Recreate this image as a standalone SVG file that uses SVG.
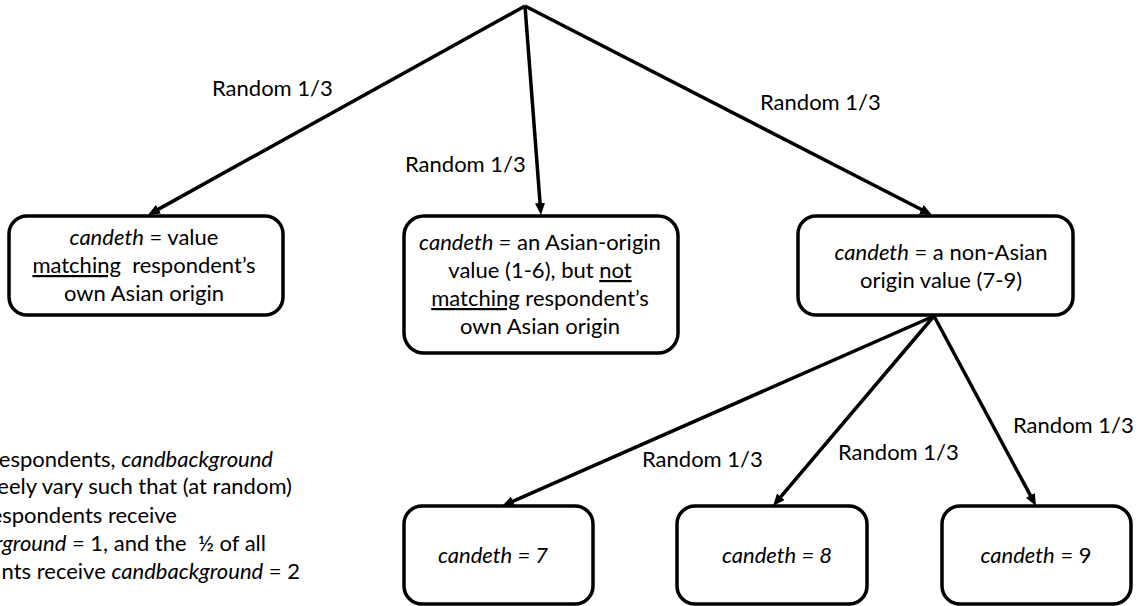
<svg xmlns="http://www.w3.org/2000/svg" width="1138" height="606" viewBox="0 0 1138 606">
<style>
text{font-family:Lato,"Liberation Sans",sans-serif;font-size:22px;fill:#000}
.c{text-anchor:middle}
.e{text-anchor:end}
.i{font-style:italic}
.u{text-decoration:underline}
.box{fill:#fff;stroke:#000;stroke-width:3.5}
.ln{stroke:#000;stroke-width:3.5;fill:none;marker-end:url(#ah)}
</style>
<defs>
<marker id="ah" markerUnits="userSpaceOnUse" markerWidth="14" markerHeight="12" refX="6" refY="5" orient="auto" viewBox="0 0 14 12">
<path d="M0,0 L12,5 L0,10 z" fill="#000"/>
</marker>
</defs>
<g id="connectors">
<line class="ln" x1="525" y1="6" x2="153.2" y2="212.1"/>
<line class="ln" x1="525" y1="6" x2="540.5" y2="209"/>
<line class="ln" x1="525" y1="6" x2="926.7" y2="212.3"/>
<line class="ln" x1="934" y1="316" x2="507.5" y2="503.6"/>
<line class="ln" x1="934" y1="316" x2="776.9" y2="501.4"/>
<line class="ln" x1="934" y1="316" x2="1033.2" y2="500.7"/>
<text x="212" y="96">Random 1/3</text>
<text x="405" y="172">Random 1/3</text>
<text x="760" y="110">Random 1/3</text>
<text x="642" y="467">Random 1/3</text>
<text x="838" y="460">Random 1/3</text>
<text x="1013" y="433">Random 1/3</text>
</g>
<g id="node-match">
<rect class="box" x="9" y="216" width="274" height="99" rx="18"/>
<text class="c" x="144" y="245"><tspan class="i">candeth</tspan> = value</text>
<text class="c" x="144" y="273"><tspan class="u">matching</tspan>&#160; respondent’s</text>
<text class="c" x="144" y="301">own Asian origin</text>
</g>
<g id="node-asian-nonmatch">
<rect class="box" x="404" y="216" width="274" height="137" rx="20"/>
<text class="c" x="540" y="250"><tspan class="i">candeth =</tspan> an Asian-origin</text>
<text class="c" x="540" y="278">value (1-6), but <tspan class="u">not</tspan></text>
<text class="c" x="540" y="306"><tspan class="u">matching</tspan> respondent’s</text>
<text class="c" x="540" y="334">own Asian origin</text>
</g>
<g id="node-nonasian">
<rect class="box" x="798" y="216" width="275" height="99" rx="18"/>
<text class="c" x="941" y="260"><tspan class="i">candeth</tspan> = a non-Asian</text>
<text class="c" x="941" y="288">origin value (7-9)</text>
</g>
<g id="node-7">
<rect class="box" x="404" y="506" width="189" height="98" rx="18"/>
<text class="c i" x="493" y="563">candeth = 7</text>
</g>
<g id="node-8">
<rect class="box" x="677" y="506" width="190" height="98" rx="18"/>
<text class="c i" x="777" y="563">candeth = 8</text>
</g>
<g id="node-9">
<rect class="box" x="942" y="506" width="189" height="98" rx="18"/>
<text class="c" x="1036" y="563"><tspan class="i">candeth</tspan> = 9</text>
</g>
<g id="note">
<text class="e" x="273" y="467">espondents, <tspan class="i">candbackground</tspan></text>
<text class="e" x="292" y="494">eely vary such that (at random)</text>
<text class="e" x="177" y="523">espondents receive</text>
<text class="e" x="266" y="551"><tspan class="i">rground</tspan> = 1, and the&#160; ½ of all</text>
<text class="e" x="300" y="579">nts receive <tspan class="i">candbackground</tspan> = 2</text>
</g>
</svg>
